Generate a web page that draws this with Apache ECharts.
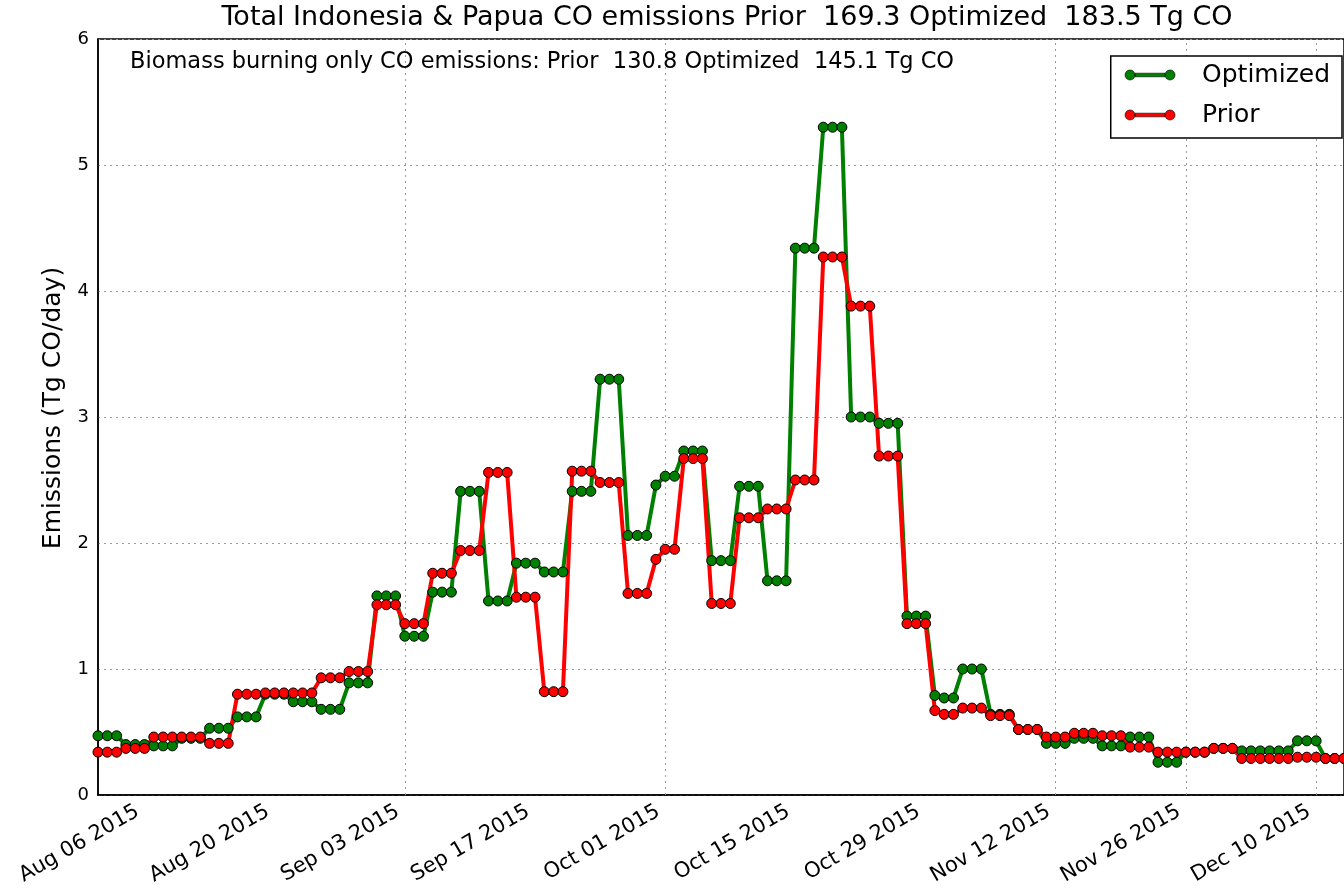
<!DOCTYPE html>
<html>
<head>
<meta charset="utf-8">
<title>Indonesia &amp; Papua CO emissions</title>
<script src="https://cdn.jsdelivr.net/npm/echarts@6/dist/echarts.min.js"></script>
<style>
  html, body { margin: 0; padding: 0; background: #ffffff; }
  #chart { width: 1344px; height: 893px; }
</style>
</head>
<body>
<div id="chart"></div>
<script>
// Daily series start date (one value per day)
const startDate = '2015-08-01';

// Labelled dates on the time axis
const tickDates = ['2015-08-06', '2015-08-20', '2015-09-03', '2015-09-17', '2015-10-01',
                   '2015-10-15', '2015-10-29', '2015-11-12', '2015-11-26', '2015-12-10'];
// Dates with a vertical grid line
const gridDates = ['2015-09-03', '2015-10-01', '2015-11-12', '2015-11-26', '2015-12-10'];

// Optimized CO emissions (Tg CO/day), Aug 01 - Dec 13 2015
const optimized = [
  0.47, 0.47, 0.47, 0.40, 0.40, 0.40, 0.39, 0.39, 0.39, 0.45, 0.45, 0.45, 0.53, 0.53, 0.53,
  0.62, 0.62, 0.62, 0.80, 0.80, 0.80, 0.74, 0.74, 0.74, 0.68, 0.68, 0.68, 0.89, 0.89, 0.89,
  1.58, 1.58, 1.58, 1.26, 1.26, 1.26, 1.61, 1.61, 1.61, 2.41, 2.41, 2.41, 1.54, 1.54, 1.54,
  1.84, 1.84, 1.84, 1.77, 1.77, 1.77, 2.41, 2.41, 2.41, 3.30, 3.30, 3.30, 2.06, 2.06, 2.06,
  2.46, 2.53, 2.53, 2.73, 2.73, 2.73, 1.86, 1.86, 1.86, 2.45, 2.45, 2.45, 1.70, 1.70, 1.70,
  4.34, 4.34, 4.34, 5.30, 5.30, 5.30, 3.00, 3.00, 3.00, 2.95, 2.95, 2.95, 1.42, 1.42, 1.42,
  0.79, 0.77, 0.77, 1.00, 1.00, 1.00, 0.64, 0.64, 0.64, 0.52, 0.52, 0.52, 0.41, 0.41, 0.41,
  0.45, 0.45, 0.45, 0.39, 0.39, 0.39, 0.46, 0.46, 0.46, 0.26, 0.26, 0.26, 0.34, 0.34, 0.34,
  0.37, 0.37, 0.37, 0.35, 0.35, 0.35, 0.35, 0.35, 0.35, 0.43, 0.43, 0.43, 0.29, 0.29, 0.29
];

// Prior CO emissions (Tg CO/day), Aug 01 - Dec 13 2015
const prior = [
  0.34, 0.34, 0.34, 0.37, 0.37, 0.37, 0.46, 0.46, 0.46, 0.46, 0.46, 0.46, 0.41, 0.41, 0.41,
  0.80, 0.80, 0.80, 0.81, 0.81, 0.81, 0.81, 0.81, 0.81, 0.93, 0.93, 0.93, 0.98, 0.98, 0.98,
  1.51, 1.51, 1.51, 1.36, 1.36, 1.36, 1.76, 1.76, 1.76, 1.94, 1.94, 1.94, 2.56, 2.56, 2.56,
  1.57, 1.57, 1.57, 0.82, 0.82, 0.82, 2.57, 2.57, 2.57, 2.48, 2.48, 2.48, 1.60, 1.60, 1.60,
  1.87, 1.95, 1.95, 2.67, 2.67, 2.67, 1.52, 1.52, 1.52, 2.20, 2.20, 2.20, 2.27, 2.27, 2.27,
  2.50, 2.50, 2.50, 4.27, 4.27, 4.27, 3.88, 3.88, 3.88, 2.69, 2.69, 2.69, 1.36, 1.36, 1.36,
  0.67, 0.64, 0.64, 0.69, 0.69, 0.69, 0.63, 0.63, 0.63, 0.52, 0.52, 0.52, 0.46, 0.46, 0.46,
  0.49, 0.49, 0.49, 0.47, 0.47, 0.47, 0.38, 0.38, 0.38, 0.34, 0.34, 0.34, 0.34, 0.34, 0.34,
  0.37, 0.37, 0.37, 0.29, 0.29, 0.29, 0.29, 0.29, 0.29, 0.30, 0.30, 0.30, 0.29, 0.29, 0.29
];

const titleText = 'Total Indonesia & Papua CO emissions Prior  169.3 Optimized  183.5 Tg CO';
const subText = 'Biomass burning only CO emissions: Prior  130.8 Optimized  145.1 Tg CO';
const yAxisTitle = 'Emissions (Tg CO/day)';

// ---- helpers ----
const DAY = 86400000;
const MONTHS = ['Jan', 'Feb', 'Mar', 'Apr', 'May', 'Jun', 'Jul', 'Aug', 'Sep', 'Oct', 'Nov', 'Dec'];
function toUTC(s) { const p = s.split('-').map(Number); return Date.UTC(p[0], p[1] - 1, p[2]); }
const t0 = toUTC(startDate);
function dayIndex(s) { return Math.round((toUTC(s) - t0) / DAY); }
function dayLabel(d) {
  const dt = new Date(t0 + Math.round(d) * DAY);
  const dd = String(dt.getUTCDate()).padStart(2, '0');
  return MONTHS[dt.getUTCMonth()] + ' ' + dd + ' ' + dt.getUTCFullYear();
}

const FONT = '"DejaVu Sans", "Liberation Sans", sans-serif';
const lastDay = optimized.length - 1;
const toPoints = arr => arr.map((v, i) => [i, v]);

const chart = echarts.init(document.getElementById('chart'), null, { renderer: 'canvas' });

chart.setOption({
  animation: false,
  backgroundColor: '#ffffff',
  textStyle: { fontFamily: FONT },
  grid: {
    left: 98, right: -3, top: 39, bottom: 98,
    show: true, borderColor: '#000', borderWidth: 1.5, backgroundColor: 'transparent'
  },
  graphic: [
    {
      type: 'text', x: 727, y: 18, z: 10,
      style: { text: titleText, fontFamily: FONT, fontSize: 27, fill: '#000',
               textAlign: 'center', textVerticalAlign: 'middle' }
    },
    {
      type: 'text', x: 130, y: 62, z: 10,
      style: { text: subText, fontFamily: FONT, fontSize: 22.5, fill: '#000',
               textAlign: 'left', textVerticalAlign: 'middle' }
    }
  ],
  legend: {
    orient: 'vertical',
    right: 2, top: 56,
    padding: [6, 12, 10, 14],
    itemGap: 14,
    itemWidth: 50, itemHeight: 11,
    backgroundColor: '#fff',
    borderColor: '#000', borderWidth: 1.5, borderRadius: 0,
    icon: 'path://M0,5a5,5 0 1,0 10,0a5,5 0 1,0 -10,0zM10,3.2H40V6.8H10zM40,5a5,5 0 1,0 10,0a5,5 0 1,0 -10,0z',
    itemStyle: { borderColor: '#000', borderWidth: 0.6 },
    textStyle: { fontFamily: FONT, fontSize: 25, color: '#000', lineHeight: 26, padding: [0, 0, 0, 22] },
    data: ['Optimized', 'Prior']
  },
  xAxis: {
    type: 'value',
    min: 0, max: lastDay,
    axisLine: { show: true, onZero: false, lineStyle: { color: '#000', width: 1.5 } },
    axisTick: { show: false },
    splitLine: { show: false },
    axisLabel: {
      customValues: tickDates.map(dayIndex),
      formatter: v => dayLabel(v),
      rotate: 30,
      margin: 11,
      padding: [0, 8, 0, 0],
      fontFamily: FONT, fontSize: 21, color: '#000'
    }
  },
  yAxis: {
    type: 'value',
    min: 0, max: 6, interval: 1,
    name: yAxisTitle,
    nameLocation: 'middle',
    nameRotate: 90,
    nameGap: 32,
    nameTextStyle: { fontFamily: FONT, fontSize: 25, color: '#000', padding: [0, 0, 0, 18] },
    axisLine: { show: true, lineStyle: { color: '#000', width: 1.5 } },
    axisTick: { show: false },
    axisLabel: { fontFamily: FONT, fontSize: 18, color: '#000', margin: 9 },
    splitLine: { show: true, lineStyle: { color: '#9a9a9a', width: 1, type: [2, 4] } }
  },
  series: [
    {
      name: 'Optimized',
      type: 'line',
      data: toPoints(optimized),
      color: '#008000',
      showAllSymbol: true,
      symbol: 'circle', symbolSize: 10,
      lineStyle: { color: '#008000', width: 4 },
      itemStyle: { color: '#008000', borderColor: '#000', borderWidth: 1 },
      emphasis: { disabled: true },
      markLine: {
        silent: true, z: 1,
        symbol: ['none', 'none'],
        label: { show: false },
        lineStyle: { color: '#9a9a9a', width: 1, type: [2, 4] },
        emphasis: { disabled: true },
        data: gridDates.map(d => ({ xAxis: dayIndex(d) }))
      }
    },
    {
      name: 'Prior',
      type: 'line',
      data: toPoints(prior),
      color: '#ff0000',
      showAllSymbol: true,
      symbol: 'circle', symbolSize: 10,
      lineStyle: { color: '#ff0000', width: 4 },
      itemStyle: { color: '#ff0000', borderColor: '#000', borderWidth: 1 },
      emphasis: { disabled: true }
    }
  ]
});
</script>
</body>
</html>
